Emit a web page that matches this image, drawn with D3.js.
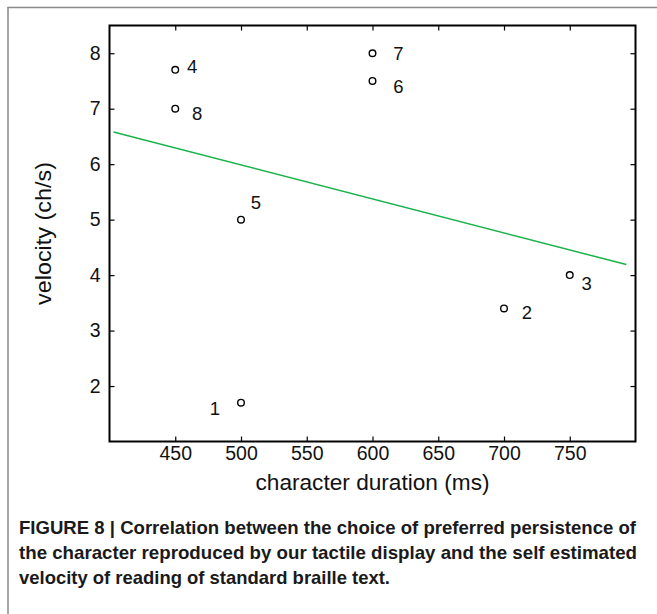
<!DOCTYPE html>
<html>
<head>
<meta charset="utf-8">
<script src="https://cdn.jsdelivr.net/npm/d3@7"></script>
<style>
  html, body { margin: 0; padding: 0; background: #fff; }
  svg { display: block; }
</style>
</head>
<body>
<svg id="chart" width="657" height="614"></svg>
<script>
// ---- data ----
const ids        = ["1", "2", "3", "4", "5", "6", "7", "8"];
const durations  = [500, 700, 750, 450, 500, 600, 600, 450];   // ms
const velocities = [1.7, 3.4, 4.0, 7.7, 5.0, 7.5, 8.0, 7.0];   // ch/s
const fitLine    = [[403, 6.58], [793, 4.19]];                 // regression line endpoints
const xTicks     = [450, 500, 550, 600, 650, 700, 750];
const yTicks     = [2, 3, 4, 5, 6, 7, 8];
const xTitle     = "character duration (ms)";
const yTitle     = "velocity (ch/s)";
const captionLines = [
  "FIGURE 8 | Correlation between the choice of preferred persistence of",
  "the character reproduced by our tactile display and the self estimated",
  "velocity of reading of standard braille text."
];
// label offsets (style) per point
const labelOffsets = {
  "1": [-26, 6], "2": [23, 4], "3": [17, 8], "4": [17, -3],
  "5": [15, -17], "6": [26, 6], "7": [26, 0], "8": [22, 5]
};

// ---- layout ----
const svg = d3.select("#chart");
const L = 109.5, R = 635.5, T = 25.5, B = 441.5;
const x = d3.scaleLinear().domain([400, 800]).range([L, R]);
const y = d3.scaleLinear().domain([1, 8.5]).range([B, T]);
const font = "'Liberation Sans', Arial, Helvetica, sans-serif";

// outer frame (top & left grey rules)
svg.append("line").attr("x1", 7.5).attr("x2", 657).attr("y1", 7.5).attr("y2", 7.5)
  .attr("stroke", "#8a8a8a").attr("stroke-width", 1.5);
svg.append("line").attr("x1", 8).attr("x2", 8).attr("y1", 7).attr("y2", 614)
  .attr("stroke", "#8a8a8a").attr("stroke-width", 1.5);

// axes with inward ticks
const tickLen = 5;
const gB = svg.append("g").attr("transform", `translate(0,${B})`)
  .call(d3.axisBottom(x).tickValues(xTicks).tickSizeInner(-tickLen).tickSizeOuter(0).tickPadding(5));
const gT = svg.append("g").attr("transform", `translate(0,${T})`)
  .call(d3.axisTop(x).tickValues(xTicks).tickSizeInner(-tickLen).tickSizeOuter(0).tickFormat(""));
const gL = svg.append("g").attr("transform", `translate(${L},0)`)
  .call(d3.axisLeft(y).tickValues(yTicks).tickSizeInner(-tickLen).tickSizeOuter(0).tickPadding(9));
const gR = svg.append("g").attr("transform", `translate(${R},0)`)
  .call(d3.axisRight(y).tickValues(yTicks).tickSizeInner(-tickLen).tickSizeOuter(0).tickFormat(""));
[gB, gT, gL, gR].forEach(g => {
  g.select(".domain").remove();
  g.selectAll(".tick line").attr("stroke", "#000").attr("stroke-width", 1.2);
  g.selectAll(".tick text").attr("font-family", font).attr("font-size", 19.5).attr("fill", "#111");
});

// plot box
svg.append("rect").attr("x", L).attr("y", T).attr("width", R - L).attr("height", B - T)
  .attr("fill", "none").attr("stroke", "#000").attr("stroke-width", 2);

// regression line
svg.append("path")
  .attr("d", d3.line().x(d => x(d[0])).y(d => y(d[1]))(fitLine))
  .attr("fill", "none").attr("stroke", "#19b24b").attr("stroke-width", 1.5);

// points
const pts = ids.map((id, i) => ({ id, d: durations[i], v: velocities[i] }));
svg.append("g").selectAll("circle").data(pts).join("circle")
  .attr("cx", p => x(p.d)).attr("cy", p => y(p.v)).attr("r", 3.3)
  .attr("fill", "none").attr("stroke", "#000").attr("stroke-width", 1.4);
svg.append("g").selectAll("text").data(pts).join("text")
  .attr("x", p => x(p.d) + labelOffsets[p.id][0])
  .attr("y", p => y(p.v) + labelOffsets[p.id][1])
  .attr("text-anchor", "middle").attr("dominant-baseline", "central")
  .attr("font-family", font).attr("font-size", 18.5).attr("fill", "#111")
  .text(p => p.id);

// axis titles
svg.append("text").attr("x", (L + R) / 2).attr("y", 490)
  .attr("text-anchor", "middle").attr("font-family", font).attr("font-size", 22)
  .attr("fill", "#111").attr("textLength", 234).attr("lengthAdjust", "spacingAndGlyphs")
  .text(xTitle);
svg.append("text").attr("transform", `translate(51,${(T + B) / 2}) rotate(-90)`)
  .attr("text-anchor", "middle").attr("font-family", font).attr("font-size", 22)
  .attr("fill", "#111").attr("textLength", 143).attr("lengthAdjust", "spacingAndGlyphs")
  .text(yTitle);

// caption
const capEnds = [636, 637, 390];
svg.append("g").selectAll("text").data(captionLines).join("text")
  .attr("x", 19).attr("y", (d, i) => 534 + i * 25)
  .attr("font-family", "'Liberation Sans Narrow', 'Arial Narrow', " + font)
  .attr("font-weight", "bold").attr("font-size", 18.5).attr("fill", "#1a1a1a")
  .attr("textLength", (d, i) => capEnds[i] - 19).attr("lengthAdjust", "spacingAndGlyphs")
  .text(d => d);
</script>
</body>
</html>
